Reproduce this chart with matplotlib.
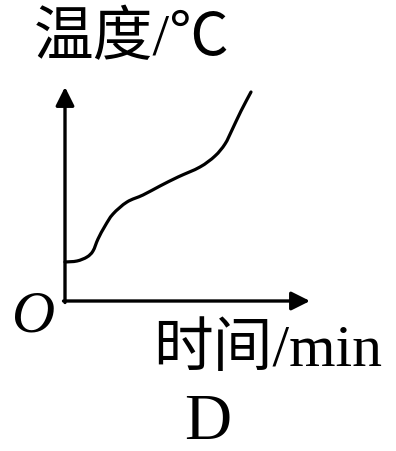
import matplotlib.pyplot as plt
from matplotlib.path import Path
from matplotlib.patches import PathPatch

# curve (origin at the O of the axes, 1 unit = 1 px)
time_vals = [0, 12, 22, 28, 33, 40, 48, 62, 78, 95, 113, 135, 150, 160, 167, 176, 186]
temp_vals = [39, 40, 44, 50, 62, 75, 87, 99, 106, 115, 124, 134, 145, 157, 171, 190, 209]

y_label = '温度/℃'
x_label = '时间/min'
origin_label = 'O'
panel_label = 'D'


def smooth_path(xs, ys):
    # Catmull-Rom through the points, drawn as cubic bezier segments
    pts = list(zip(xs, ys))
    verts = [pts[0]]
    codes = [Path.MOVETO]
    for i in range(len(pts) - 1):
        p0 = pts[max(i - 1, 0)]
        p1 = pts[i]
        p2 = pts[i + 1]
        p3 = pts[min(i + 2, len(pts) - 1)]
        c1 = (p1[0] + (p2[0] - p0[0]) / 6, p1[1] + (p2[1] - p0[1]) / 6)
        c2 = (p2[0] - (p3[0] - p1[0]) / 6, p2[1] - (p3[1] - p1[1]) / 6)
        verts += [c1, c2, p2]
        codes += [Path.CURVE4] * 3
    return Path(verts, codes)


fig = plt.figure(figsize=(3.96, 4.52), dpi=100)
ax = fig.add_axes([0, 0, 1, 1])
ax.set_xlim(-65, 331)
ax.set_ylim(-150, 302)
ax.axis('off')

arrow = dict(arrowstyle='-|>', lw=2.4, color='black', mutation_scale=28,
             shrinkA=0, shrinkB=0)
ax.annotate('', xy=(0, 214), xytext=(0, -1.5), arrowprops=arrow)
ax.annotate('', xy=(245, 0), xytext=(-1.5, 0), arrowprops=arrow)

ax.add_patch(PathPatch(smooth_path(time_vals, temp_vals), fill=False,
                       edgecolor='black', lw=2.3, capstyle='round'))

mixed = ['Liberation Serif', 'Noto Sans CJK SC']
ax.text(-31, 262, y_label, fontsize=43, family=mixed, va='center', ha='left')
ax.text(-31, -16, origin_label, fontsize=43, family='Liberation Serif', style='italic',
        va='center', ha='center')
ax.text(88, -50, x_label, fontsize=43, family=mixed, va='center', ha='left')
ax.text(143, -121, panel_label, fontsize=47, family='Liberation Serif',
        va='center', ha='center')

fig.savefig('out.png', dpi=100)
